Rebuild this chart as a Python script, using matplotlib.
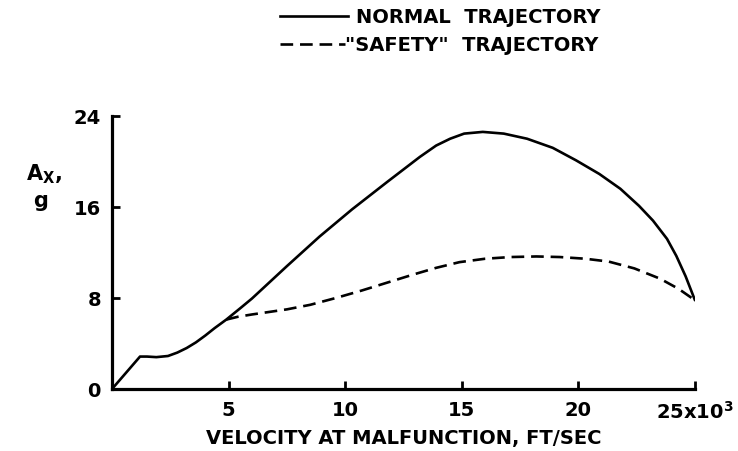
"""Acceleration at malfunction vs. velocity, normal and "safety" trajectories."""

import matplotlib

matplotlib.use("Agg")
import matplotlib.pyplot as plt

# Normal trajectory (velocity in 10^3 ft/sec, A_x in g)
normal_v = [0, 0.4, 0.8, 1.2, 1.5, 1.9, 2.4, 2.8, 3.2, 3.6, 4.0, 4.4, 4.9, 5.5,
            6.0, 7.5, 8.9, 10.3, 11.8, 13.2, 13.9, 14.5, 15.1, 15.9, 16.8,
            17.8, 18.9, 19.9, 20.9, 21.8, 22.6, 23.2, 23.8, 24.2, 24.6, 25.0]
normal_ax = [0, 0.95, 1.9, 2.85, 2.85, 2.8, 2.9, 3.2, 3.6, 4.1, 4.7, 5.35, 6.1,
             7.1, 7.95, 10.8, 13.4, 15.8, 18.2, 20.4, 21.4, 22.0, 22.45, 22.6,
             22.45, 22.0, 21.2, 20.1, 18.9, 17.6, 16.1, 14.8, 13.2, 11.7, 9.9, 7.8]

# "Safety" trajectory, branching off the normal curve near 5x10^3 ft/sec
safety_v = [4.9, 5.4, 6.0, 6.5, 7.5, 8.5, 9.6, 10.7, 11.8, 12.9, 13.9, 14.9,
            16.0, 17.1, 18.2, 19.2, 20.3, 21.3, 22.4, 23.5, 24.3, 25.0]
safety_ax = [6.1, 6.35, 6.55, 6.7, 7.0, 7.4, 8.0, 8.65, 9.35, 10.05, 10.65, 11.15,
             11.45, 11.6, 11.65, 11.6, 11.45, 11.2, 10.6, 9.7, 8.8, 7.8]

x_ticks = [5, 10, 15, 20, 25]
x_labels = ["5", "10", "15", "20", r"25x10$^{\mathbf{3}}$"]
y_ticks = [0, 8, 16, 24]
y_labels = ["0", "8", "16", "24"]

plt.rcParams["mathtext.default"] = "bf"

fig = plt.figure(figsize=(7.38, 4.52), dpi=100)
ax = fig.add_axes([0.1518, 0.1372, 0.7899, 0.604])

ax.plot(normal_v, normal_ax, color="black", lw=1.9,
        solid_capstyle="round", solid_joinstyle="round")
ax.plot(safety_v, safety_ax, color="black", lw=1.9, linestyle=(0, (4.8, 2.6)))

ax.set_xlim(0, 25)
ax.set_ylim(0, 24)
for side in ("top", "right"):
    ax.spines[side].set_visible(False)
for side in ("left", "bottom"):
    ax.spines[side].set_linewidth(2.3)

ax.set_xticks(x_ticks)
ax.set_xticklabels(x_labels)
ax.set_yticks(y_ticks)
ax.set_yticklabels(y_labels)
ax.tick_params(direction="in", length=6, width=2, labelsize=14, pad=8)
for lab in ax.get_xticklabels() + ax.get_yticklabels():
    lab.set_fontweight("bold")

ax.set_xlabel("VELOCITY AT MALFUNCTION, FT/SEC", fontsize=14,
              fontweight="bold", labelpad=4)

# y label: A sub X, comma, then g underneath
fig.text(0.035, 0.615, r"A$_{\mathbf{X}}$,", fontsize=15, fontweight="bold",
         ha="left", va="center")
fig.text(0.045, 0.555, "g", fontsize=15, fontweight="bold",
         ha="left", va="center")

# legend drawn as figure lines with text
fig.add_artist(plt.Line2D([0.38, 0.472], [0.962, 0.962], color="black",
                          lw=1.9, transform=fig.transFigure))
fig.text(0.482, 0.962, "NORMAL  TRAJECTORY", fontsize=14, fontweight="bold",
         ha="left", va="center")
fig.add_artist(plt.Line2D([0.38, 0.467], [0.9, 0.9], color="black",
                          lw=1.9, linestyle=(0, (4.8, 2.6)),
                          transform=fig.transFigure))
fig.text(0.467, 0.9, '"SAFETY"  TRAJECTORY', fontsize=14, fontweight="bold",
         ha="left", va="center")

fig.savefig("out.png", dpi=100)
